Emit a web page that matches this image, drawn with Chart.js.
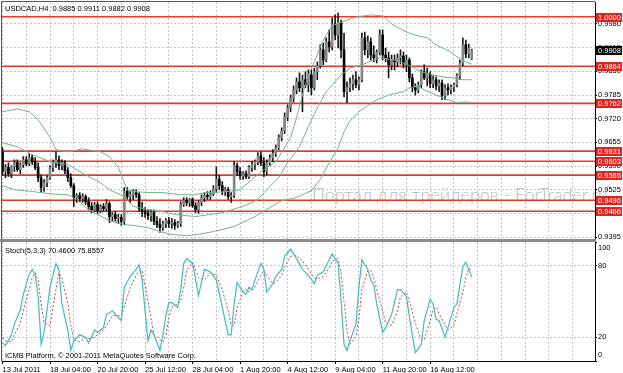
<!DOCTYPE html>
<html>
<head>
<meta charset="utf-8">
<script src="https://cdn.jsdelivr.net/npm/chart.js@4.4.1/dist/chart.umd.min.js"></script>
<style>
  body { margin: 0; background: #fff; width: 623px; height: 373px; position: relative; overflow: hidden;
         font-family: "Liberation Sans", Arial, sans-serif; }
  canvas { position: absolute; left: 0; z-index: 1; }
  #price { top: 0; }
  #stoch { top: 241px; }
  .txt { position: absolute; z-index: 2; font-size: 7.5px; line-height: 9px; color: #000; white-space: pre; }
  #mark { position: absolute; z-index: 0; left: 312px; top: 183px; font-family: Lato, sans-serif; font-weight: 300;
          font-size: 18px; color: #b9b9b9; white-space: pre; }
  #sep { position: absolute; z-index: 2; left: 0; top: 239px; width: 596px; height: 3px; background: #8a8a8a; }
</style>
</head>
<body>
<div id="mark">Портал для трейдеров - ForTrader.ru</div>
<canvas id="price" width="623" height="241"></canvas>
<canvas id="stoch" width="623" height="132"></canvas>
<div id="sep"></div>
<div class="txt" style="left:5px;top:4px">USDCAD,H4  0.9885 0.9911 0.9882 0.9908</div>
<div class="txt" style="left:5px;top:246px">Stoch(5,3,3) 70.4600 75.8557</div>
<div class="txt" style="left:5px;top:351px">ICMB Platform, © 2001-2011 MetaQuotes Software Corp.</div>
<script>
/* ========= DATA ========= */
// H4 candles, bar 0 = 13 Jul 2011 12:00
const open = [
  0.9629,0.9575,0.9586,0.9569,0.9588,0.9599,0.9580,0.9594,0.9607,0.9596,
  0.9613,0.9602,0.9586,0.9558,0.9531,0.9544,0.9558,0.9586,0.9599,0.9607,
  0.9591,0.9599,0.9577,0.9558,0.9536,0.9503,0.9509,0.9501,0.9506,0.9492,
  0.9479,0.9470,0.9484,0.9468,0.9479,0.9473,0.9487,0.9451,0.9457,0.9446,
  0.9449,0.9438,0.9520,0.9506,0.9511,0.9517,0.9511,0.9473,0.9465,0.9460,
  0.9454,0.9462,0.9438,0.9429,0.9421,0.9432,0.9440,0.9432,0.9435,0.9427,
  0.9432,0.9484,0.9495,0.9490,0.9498,0.9481,0.9470,0.9490,0.9503,0.9509,
  0.9506,0.9514,0.9528,0.9553,0.9536,0.9520,0.9525,0.9506,0.9509,0.9591,
  0.9575,0.9564,0.9569,0.9561,0.9586,0.9594,0.9602,0.9618,0.9599,0.9575,
  0.9599,0.9613,0.9624,0.9640,0.9668,0.9687,0.9725,0.9750,0.9777,0.9799,
  0.9821,0.9805,0.9827,0.9813,0.9840,0.9805,0.9849,0.9865,0.9909,0.9881,
  0.9931,0.9917,0.9980,0.9950,0.9985,0.9909,0.9794,0.9805,0.9816,0.9827,
  0.9813,0.9827,0.9942,0.9909,0.9931,0.9895,0.9887,0.9903,0.9950,0.9895,
  0.9887,0.9868,0.9881,0.9876,0.9887,0.9892,0.9870,0.9881,0.9832,0.9805,
  0.9799,0.9813,0.9849,0.9832,0.9843,0.9816,0.9827,0.9810,0.9818,0.9783,
  0.9805,0.9799,0.9807,0.9813,0.9838,0.9873,0.9923,0.9898,0.9885
];
const high = [
  0.9640,0.9594,0.9599,0.9591,0.9607,0.9607,0.9599,0.9616,0.9616,0.9624,
  0.9621,0.9613,0.9599,0.9566,0.9553,0.9564,0.9591,0.9607,0.9629,0.9618,
  0.9607,0.9605,0.9586,0.9569,0.9542,0.9514,0.9517,0.9514,0.9511,0.9503,
  0.9490,0.9490,0.9492,0.9484,0.9487,0.9498,0.9492,0.9462,0.9465,0.9457,
  0.9457,0.9531,0.9531,0.9520,0.9525,0.9525,0.9517,0.9490,0.9476,0.9470,
  0.9470,0.9470,0.9451,0.9446,0.9438,0.9446,0.9449,0.9446,0.9443,0.9438,
  0.9492,0.9503,0.9503,0.9501,0.9503,0.9490,0.9495,0.9511,0.9517,0.9520,
  0.9522,0.9536,0.9588,0.9564,0.9547,0.9531,0.9531,0.9517,0.9602,0.9599,
  0.9586,0.9575,0.9577,0.9591,0.9602,0.9607,0.9627,0.9629,0.9613,0.9607,
  0.9621,0.9635,0.9648,0.9676,0.9695,0.9736,0.9758,0.9785,0.9810,0.9832,
  0.9846,0.9840,0.9849,0.9854,0.9854,0.9859,0.9876,0.9923,0.9928,0.9942,
  0.9964,0.9996,1.0005,1.0010,0.9991,0.9955,0.9821,0.9832,0.9840,0.9849,
  0.9835,0.9955,0.9958,0.9947,0.9942,0.9920,0.9909,0.9964,0.9964,0.9914,
  0.9903,0.9895,0.9895,0.9898,0.9909,0.9903,0.9895,0.9887,0.9843,0.9816,
  0.9821,0.9854,0.9868,0.9859,0.9849,0.9838,0.9835,0.9827,0.9827,0.9813,
  0.9816,0.9813,0.9818,0.9843,0.9881,0.9942,0.9936,0.9925,0.9911
];
const low = [
  0.9564,0.9558,0.9561,0.9558,0.9575,0.9575,0.9569,0.9586,0.9591,0.9591,
  0.9594,0.9580,0.9547,0.9517,0.9520,0.9533,0.9553,0.9575,0.9586,0.9580,
  0.9580,0.9569,0.9547,0.9531,0.9479,0.9490,0.9492,0.9490,0.9484,0.9470,
  0.9462,0.9465,0.9460,0.9462,0.9465,0.9465,0.9435,0.9438,0.9438,0.9432,
  0.9427,0.9429,0.9498,0.9490,0.9498,0.9503,0.9465,0.9451,0.9449,0.9443,
  0.9438,0.9429,0.9421,0.9408,0.9413,0.9421,0.9421,0.9419,0.9416,0.9421,
  0.9424,0.9479,0.9481,0.9479,0.9476,0.9462,0.9460,0.9481,0.9492,0.9498,
  0.9498,0.9509,0.9517,0.9525,0.9511,0.9509,0.9498,0.9490,0.9503,0.9564,
  0.9553,0.9553,0.9555,0.9555,0.9575,0.9580,0.9594,0.9591,0.9561,0.9566,
  0.9591,0.9602,0.9616,0.9635,0.9659,0.9679,0.9714,0.9739,0.9766,0.9788,
  0.9794,0.9739,0.9805,0.9794,0.9785,0.9799,0.9827,0.9859,0.9868,0.9876,
  0.9903,0.9909,0.9936,0.9914,0.9887,0.9780,0.9764,0.9794,0.9799,0.9805,
  0.9799,0.9821,0.9895,0.9887,0.9881,0.9876,0.9873,0.9895,0.9881,0.9876,
  0.9832,0.9854,0.9854,0.9862,0.9870,0.9859,0.9849,0.9821,0.9794,0.9785,
  0.9791,0.9805,0.9827,0.9810,0.9805,0.9805,0.9799,0.9794,0.9772,0.9772,
  0.9785,0.9788,0.9794,0.9807,0.9827,0.9865,0.9887,0.9887,0.9882
];
const close = [
  0.9575,0.9586,0.9569,0.9588,0.9599,0.9580,0.9594,0.9607,0.9596,0.9613,
  0.9602,0.9586,0.9558,0.9531,0.9544,0.9558,0.9586,0.9599,0.9607,0.9591,
  0.9599,0.9577,0.9558,0.9536,0.9503,0.9509,0.9501,0.9506,0.9492,0.9479,
  0.9470,0.9484,0.9468,0.9479,0.9473,0.9487,0.9451,0.9457,0.9446,0.9449,
  0.9438,0.9520,0.9506,0.9511,0.9517,0.9511,0.9473,0.9465,0.9460,0.9454,
  0.9462,0.9438,0.9429,0.9421,0.9432,0.9440,0.9432,0.9435,0.9427,0.9432,
  0.9484,0.9495,0.9490,0.9498,0.9481,0.9470,0.9490,0.9503,0.9509,0.9506,
  0.9514,0.9528,0.9553,0.9536,0.9520,0.9525,0.9506,0.9509,0.9591,0.9575,
  0.9564,0.9569,0.9561,0.9586,0.9594,0.9602,0.9618,0.9599,0.9575,0.9599,
  0.9613,0.9624,0.9640,0.9668,0.9687,0.9725,0.9750,0.9777,0.9799,0.9821,
  0.9805,0.9827,0.9813,0.9840,0.9805,0.9849,0.9865,0.9909,0.9881,0.9931,
  0.9917,0.9980,0.9950,0.9985,0.9909,0.9794,0.9805,0.9816,0.9827,0.9813,
  0.9827,0.9942,0.9909,0.9931,0.9895,0.9887,0.9903,0.9950,0.9895,0.9887,
  0.9868,0.9881,0.9876,0.9887,0.9892,0.9870,0.9881,0.9832,0.9805,0.9799,
  0.9813,0.9849,0.9832,0.9843,0.9816,0.9827,0.9810,0.9818,0.9783,0.9805,
  0.9799,0.9807,0.9813,0.9838,0.9873,0.9923,0.9898,0.9914,0.9908
];

// Bollinger bands, traced at bar indices
const bandUpperBars = [0,5,9,12,15,17,18,22,27,33,36,39,41,42,44,49,54,60,64,69,76,80,84,88,92,94,97,99,101,103,105,107,109,111,115,119,124,128,129,131,136,140,143,146,151,153,156,158];
const bandUpper = [0.9739,0.9747,0.9739,0.9717,0.9681,0.9654,0.9635,0.9629,0.9637,0.9629,0.9616,0.9586,0.9544,0.9525,0.9520,0.9517,0.9517,0.9511,0.9511,0.9517,0.9520,0.9525,0.9553,0.9580,0.9602,0.9627,0.9668,0.9722,0.9785,0.9840,0.9876,0.9917,0.9950,0.9975,0.9988,0.9999,1.0005,1.0002,0.9996,0.9980,0.9958,0.9947,0.9942,0.9923,0.9903,0.9890,0.9876,0.9870];
const bandMidBars = [0,5,10,16,22,25,29,33,36,41,44,49,54,58,65,74,81,86,89,93,96,100,103,106,109,114,117,121,125,127,132,136,141,145,148,152,155,158];
const bandMid = [0.9654,0.9643,0.9621,0.9602,0.9594,0.9580,0.9561,0.9544,0.9525,0.9506,0.9479,0.9470,0.9465,0.9457,0.9451,0.9462,0.9479,0.9498,0.9525,0.9558,0.9599,0.9643,0.9698,0.9750,0.9794,0.9840,0.9859,0.9868,0.9881,0.9887,0.9881,0.9870,0.9849,0.9840,0.9835,0.9832,0.9827,0.9827];
const bandLowerBars = [0,4,10,16,22,25,28,32,36,41,44,49,53,57,62,66,71,78,85,90,94,98,104,107,110,113,115,117,120,126,130,135,137,140,142,146,150,153,156,158];
const bandLower = [0.9536,0.9525,0.9520,0.9514,0.9511,0.9498,0.9476,0.9457,0.9440,0.9429,0.9427,0.9421,0.9410,0.9402,0.9399,0.9402,0.9410,0.9424,0.9451,0.9476,0.9495,0.9501,0.9522,0.9553,0.9599,0.9640,0.9684,0.9714,0.9739,0.9772,0.9785,0.9794,0.9805,0.9810,0.9799,0.9785,0.9772,0.9764,0.9766,0.9764];

// horizontal levels drawn on the chart
const levels = [1.0000, 0.9864, 0.9762, 0.9631, 0.9603, 0.9565, 0.9496, 0.9466];
const lastPrice = 0.9908;
const priceTicks = [0.9395, 0.9460, 0.9525, 0.9590, 0.9655, 0.9720, 0.9785, 0.9850, 0.9915, 0.9980];

// Stochastic(5,3,3)
const stochBars = [0,1,3,4,6,7,9,10,11,12,13,14,16,18,19,20,22,23,24,26,28,29,31,32,34,35,37,40,41,43,45,46,47,49,50,51,53,54,55,56,57,59,60,61,62,64,66,68,70,72,74,76,77,78,79,81,82,83,84,85,87,88,89,91,92,94,95,97,99,101,103,105,106,108,110,111,113,114,115,116,117,119,120,121,123,124,125,126,128,129,131,133,134,136,137,139,141,142,144,145,146,147,149,150,152,153,155,156,157,158];
const stochMain = [15,13,22,31,43,56,73,77,72,54,14,24,62,82,77,48,26,9,17,22,20,15,26,24,28,39,42,34,62,71,77,81,68,17,26,22,9,22,38,49,49,45,60,82,86,82,55,77,75,68,45,22,22,48,66,58,56,62,60,68,82,77,58,65,71,77,88,94,86,77,72,65,72,75,85,90,82,51,14,9,17,31,62,85,77,68,64,48,24,28,39,60,60,54,37,7,14,34,52,48,35,34,20,28,45,48,79,83,77,70.46];
const stochSignal = [20,17,16,22,32,42,60,70,74,68,48,32,30,60,74,70,48,30,18,16,20,19,20,22,26,30,38,38,45,62,72,76,76,50,36,22,18,16,22,36,45,48,50,62,76,83,70,68,74,72,60,42,30,30,45,58,60,58,59,62,72,76,72,65,66,72,79,88,89,84,77,70,69,71,78,84,86,74,50,26,14,20,36,60,76,76,70,60,42,32,30,42,54,58,50,32,18,18,34,44,45,40,30,26,30,40,58,70,78,75.86];
const stochTicks = [0, 20, 80, 100];
const stochLevels = [20, 80];

const timeLabels = ["13 Jul 2011","18 Jul 04:00","20 Jul 20:00","25 Jul 12:00","28 Jul 04:00",
                    "1 Aug 20:00","4 Aug 12:00","9 Aug 04:00","11 Aug 20:00","16 Aug 12:00"];
const timeLabelBars = [0,16,32,48,64,80,96,112,128,144];

/* ========= STYLE ========= */
const FONT = { family: "Liberation Sans", size: 7.5 };
const GRID = "#c4c4c4";
const X_MIN = -0.17, X_MAX = 199.5;
const gridBars = [];
for (let b = 0; b < 200; b += 8) gridBars.push(b);

Chart.defaults.font.family = FONT.family;
Chart.defaults.font.size = FONT.size;
Chart.defaults.color = "#000";

const pts = (xs, ys) => xs.map((x, i) => ({ x, y: ys[i] }));
const bandLine = (xs, ys) => ({
  type: "line", data: pts(xs, ys), borderColor: "#74b28f", borderWidth: 1,
  pointRadius: 0, tension: 0, fill: false, order: 1
});

const frame = {
  id: "frame",
  afterDraw(chart, args, opts) {
    const { ctx, chartArea: a } = chart;
    ctx.save();
    ctx.strokeStyle = "#5a5a5a";
    ctx.lineWidth = 1;
    ctx.beginPath();
    ctx.moveTo(a.left - 0.5, a.top - 0.5);
    ctx.lineTo(a.left - 0.5, a.bottom + 0.5);
    if (opts.top) { ctx.moveTo(a.left - 0.5, a.top - 0.5); ctx.lineTo(a.right, a.top - 0.5); }
    ctx.stroke();
    ctx.restore();
  }
};

function tag(ctx, py, text, bg) {
  const y = Math.round(py);
  ctx.fillStyle = bg;
  ctx.fillRect(596, y - 4, 26, 9);
  ctx.fillStyle = "#fff";
  ctx.fillText(text, 598, y + 0.5);
}

const priceTags = {
  id: "priceTags",
  afterDraw(chart) {
    const { ctx } = chart;
    const y = chart.scales.y;
    ctx.save();
    ctx.font = FONT.size + "px " + FONT.family;
    ctx.textBaseline = "middle";
    levels.forEach(v => tag(ctx, y.getPixelForValue(v), v.toFixed(4), "#e3231b"));
    tag(ctx, y.getPixelForValue(lastPrice), lastPrice.toFixed(4), "#000");
    ctx.restore();
  }
};

/* ========= PRICE ========= */
new Chart(document.getElementById("price"), {
  type: "bar",
  data: {
    datasets: [
      bandLine(bandUpperBars, bandUpper),
      bandLine(bandMidBars, bandMid),
      bandLine(bandLowerBars, bandLower),
      {
        type: "bar",
        data: open.map((o, i) => ({ x: i, y: [o, close[i]] })),
        backgroundColor: c => (c.dataIndex !== undefined && close[c.dataIndex] < open[c.dataIndex]) ? "#000" : "#858585",
        barThickness: 2, minBarLength: 1, grouped: false, borderWidth: 0, order: 2
      },
      {
        type: "bar",
        data: low.map((l, i) => ({ x: i, y: [l, high[i]] })),
        backgroundColor: "#1a1a1a",
        barThickness: 1, grouped: false, borderWidth: 0, order: 3
      },
      ...levels.map(v => ({
        type: "line", data: [{ x: X_MIN, y: v }, { x: X_MAX, y: v }],
        borderColor: "#e0392f", borderWidth: 1.6, pointRadius: 0, order: 4
      }))
    ]
  },
  options: {
    responsive: false, animation: false, events: [],
    layout: { padding: { left: 2, top: 2, right: 0, bottom: 2 } },
    plugins: { legend: { display: false }, tooltip: { enabled: false }, frame: { top: true } },
    scales: {
      x: {
        type: "linear", min: X_MIN, max: X_MAX, offset: false,
        afterBuildTicks: s => { s.ticks = gridBars.map(v => ({ value: v })); },
        afterFit: s => { s.height = 0; s.paddingLeft = 0; s.paddingRight = 0; },
        ticks: { display: false },
        grid: { color: GRID, drawTicks: false, offset: false },
        border: { display: false, dash: [2, 2] }
      },
      y: {
        type: "linear", position: "right", min: 0.93896, max: 1.00404,
        afterBuildTicks: s => { s.ticks = priceTicks.map(v => ({ value: v })); },
        afterFit: s => { s.width = 28; s.paddingTop = 0; s.paddingBottom = 0; },
        ticks: { padding: 1, callback: v => v.toFixed(4) },
        grid: { color: GRID, tickLength: 2, tickColor: "#000" },
        border: { display: true, color: "#000", dash: [2, 2] }
      }
    }
  },
  plugins: [frame, priceTags]
});

/* ========= STOCH ========= */
// MT4 pulls the 100 and 0 labels inside the panel: pad them with an empty line
const stochLabel = v => v === 100 ? ["", "100"] : v === 0 ? ["0", ""] : String(v);

new Chart(document.getElementById("stoch"), {
  type: "line",
  data: {
    datasets: [
      { data: pts(stochBars, stochMain), borderColor: "#3dbdbd", borderWidth: 1.2, pointRadius: 0, tension: 0, order: 1 },
      { data: pts(stochBars, stochSignal), borderColor: "#d8423c", borderWidth: 1, borderDash: [2, 2], pointRadius: 0, tension: 0, order: 2 }
    ]
  },
  options: {
    responsive: false, animation: false, events: [],
    layout: { padding: { left: 2, top: 1, right: 0, bottom: 0 } },
    plugins: { legend: { display: false }, tooltip: { enabled: false }, frame: { top: false } },
    scales: {
      x: {
        type: "linear", min: X_MIN, max: X_MAX, offset: false,
        afterBuildTicks: s => { s.ticks = gridBars.map(v => ({ value: v })); },
        afterFit: s => { s.height = 12; s.paddingLeft = 0; s.paddingRight = 0; },
        ticks: {
          align: "start", padding: 1, autoSkip: false, maxRotation: 0, minRotation: 0,
          callback: v => { const i = timeLabelBars.indexOf(v); return i >= 0 ? timeLabels[i] : ""; }
        },
        grid: {
          color: GRID, tickLength: 3, offset: false,
          tickColor: c => timeLabelBars.includes(c.tick && c.tick.value) ? "#000" : "rgba(0,0,0,0)"
        },
        border: { display: true, color: "#000", dash: [2, 2] }
      },
      y: {
        type: "linear", position: "right", min: 0, max: 100,
        afterBuildTicks: s => { s.ticks = stochTicks.map(v => ({ value: v })); },
        afterFit: s => { s.width = 28; s.paddingTop = 0; s.paddingBottom = 0; },
        ticks: { padding: 1, font: { lineHeight: 1.6 }, callback: stochLabel },
        grid: {
          color: c => (c.tick && stochLevels.includes(c.tick.value)) ? GRID : "rgba(0,0,0,0)",
          tickLength: 2, tickColor: "#000"
        },
        border: { display: true, color: "#000", dash: [2, 2] }
      }
    }
  },
  plugins: [frame]
});
</script>
</body>
</html>
